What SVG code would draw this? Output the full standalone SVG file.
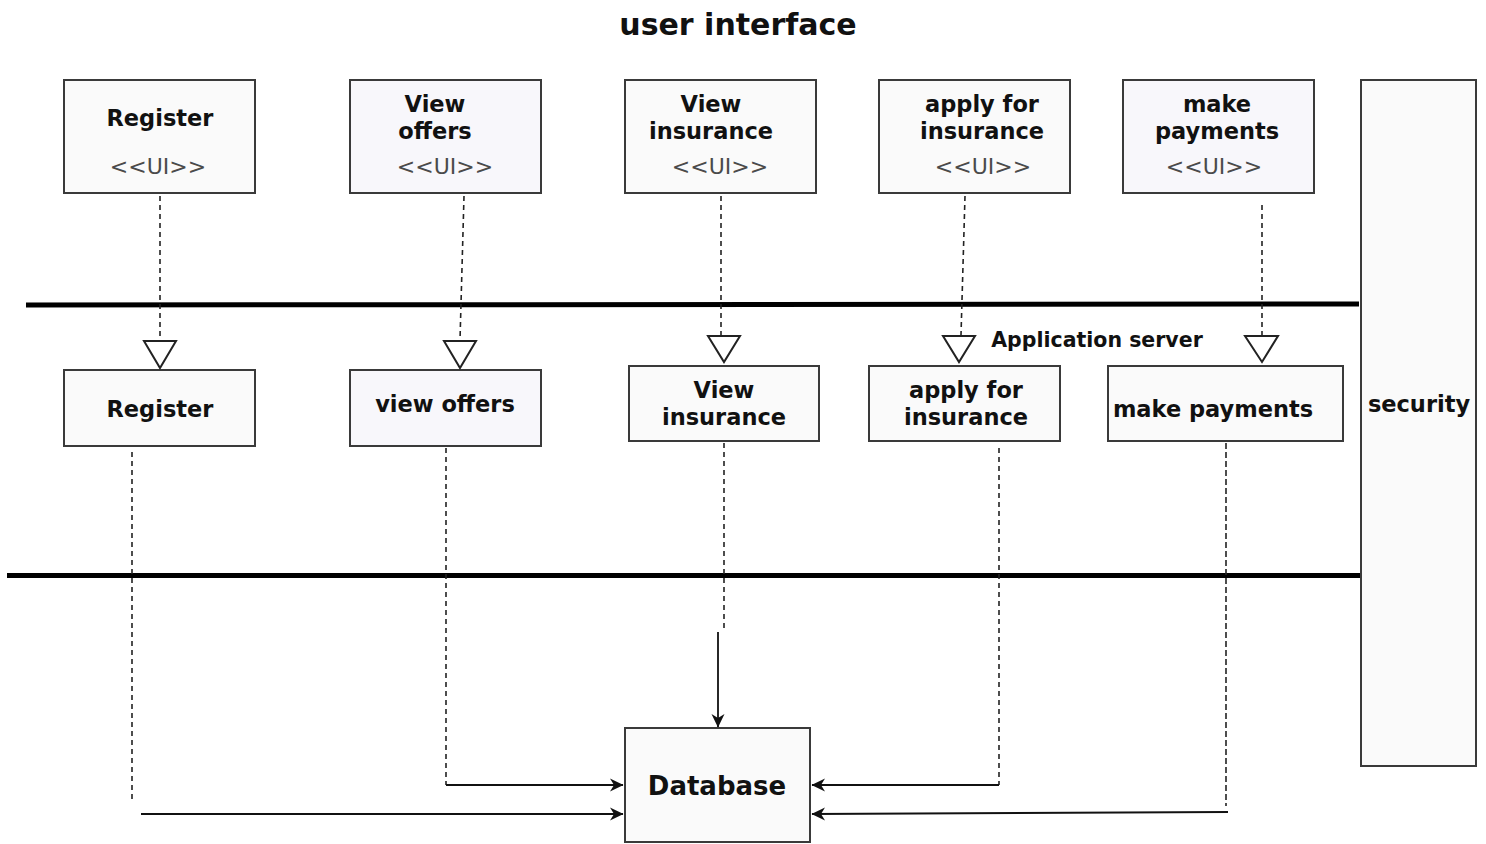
<svg xmlns="http://www.w3.org/2000/svg" width="1486" height="844" viewBox="0 0 1486 844">
  <style>
    .box { fill: #fafafa; stroke: #3a3a3a; stroke-width: 2; }
    .box.alt { fill: #f8f7fb; }
    .lbl { font-family: "DejaVu Sans", "Liberation Sans", sans-serif; font-weight: bold; font-size: 22.5px; fill: #111; text-anchor: middle; }
    .stereo { font-family: "DejaVu Sans", "Liberation Sans", sans-serif; font-size: 22px; fill: #4a4a4a; text-anchor: middle; }
    .tier { stroke: #000; stroke-width: 5; fill: none; }
    .dash { stroke: #222; stroke-width: 1.6; fill: none; stroke-dasharray: 5 4; }
    .flow { stroke: #111; stroke-width: 1.8; fill: none; marker-end: url(#arrow); }
    .gen { fill: #fff; stroke: #222; stroke-width: 2; stroke-linejoin: miter; }
  </style>
  <defs>
    <marker id="arrow" markerUnits="userSpaceOnUse" markerWidth="16" markerHeight="16" viewBox="0 0 16 16" refX="14" refY="8" orient="auto">
      <path d="M1,1.5 L14.5,8 L1,14.5 L5,8 Z" fill="#111"/>
    </marker>
  </defs>

  <rect width="1486" height="844" fill="#fff"/>

  <text x="738" y="35" class="lbl" style="font-size:30px">user interface</text>

  <!-- tier separators -->
  <g id="tiers">
    <line x1="26" y1="305" x2="1359" y2="304" class="tier"/>
    <line x1="7" y1="575.5" x2="1362" y2="575.5" class="tier"/>
  </g>

  <!-- user interface layer -->
  <g id="ui-register">
    <rect x="64" y="80" width="191" height="113" class="box"/>
    <text x="160" y="126" class="lbl">Register</text>
    <text x="158" y="174" class="stereo">&lt;&lt;UI&gt;&gt;</text>
  </g>
  <g id="ui-view-offers">
    <rect x="350" y="80" width="191" height="113" class="box alt"/>
    <text x="435" y="112" class="lbl">View</text>
    <text x="435" y="139" class="lbl">offers</text>
    <text x="445" y="174" class="stereo">&lt;&lt;UI&gt;&gt;</text>
  </g>
  <g id="ui-view-insurance">
    <rect x="625" y="80" width="191" height="113" class="box"/>
    <text x="711" y="112" class="lbl">View</text>
    <text x="711" y="139" class="lbl">insurance</text>
    <text x="720" y="174" class="stereo">&lt;&lt;UI&gt;&gt;</text>
  </g>
  <g id="ui-apply">
    <rect x="879" y="80" width="191" height="113" class="box"/>
    <text x="982" y="112" class="lbl">apply for</text>
    <text x="982" y="139" class="lbl">insurance</text>
    <text x="983" y="174" class="stereo">&lt;&lt;UI&gt;&gt;</text>
  </g>
  <g id="ui-payments">
    <rect x="1123" y="80" width="191" height="113" class="box alt"/>
    <text x="1217" y="112" class="lbl">make</text>
    <text x="1217" y="139" class="lbl">payments</text>
    <text x="1214" y="174" class="stereo">&lt;&lt;UI&gt;&gt;</text>
  </g>

  <!-- cross-cutting concern -->
  <g id="security">
    <rect x="1361" y="80" width="115" height="686" class="box"/>
    <text x="1419" y="412" class="lbl">security</text>
  </g>

  <text x="1097" y="347" class="lbl" style="font-size:20.5px">Application server</text>

  <!-- application server layer -->
  <g id="app-register">
    <rect x="64" y="370" width="191" height="76" class="box"/>
    <text x="160" y="417" class="lbl">Register</text>
  </g>
  <g id="app-view-offers">
    <rect x="350" y="370" width="191" height="76" class="box alt"/>
    <text x="445" y="412" class="lbl">view offers</text>
  </g>
  <g id="app-view-insurance">
    <rect x="629" y="366" width="190" height="75" class="box"/>
    <text x="724" y="398" class="lbl">View</text>
    <text x="724" y="425" class="lbl">insurance</text>
  </g>
  <g id="app-apply">
    <rect x="869" y="366" width="191" height="75" class="box"/>
    <text x="966" y="398" class="lbl">apply for</text>
    <text x="966" y="425" class="lbl">insurance</text>
  </g>
  <g id="app-payments">
    <rect x="1108" y="366" width="235" height="75" class="box"/>
    <text x="1213" y="417" class="lbl">make payments</text>
  </g>

  <!-- data layer -->
  <g id="database">
    <rect x="625" y="728" width="185" height="114" class="box"/>
    <text x="717" y="795" class="lbl" style="font-size:26px">Database</text>
  </g>

  <g id="connectors">
    <!-- UI to application server -->
    <path d="M160,196 V340" class="dash"/>
    <polygon points="144,341 176,341 160,368" class="gen"/>
    <path d="M464,196 L460,340" class="dash"/>
    <polygon points="444,341 476,341 460,368" class="gen"/>
    <path d="M721,196 V335" class="dash"/>
    <polygon points="708,336 740,336 724,362" class="gen"/>
    <path d="M965,196 L961,335" class="dash"/>
    <polygon points="943,336 975,336 959,362" class="gen"/>
    <path d="M1262,205 V335" class="dash"/>
    <polygon points="1245,336 1278,336 1262,362" class="gen"/>

    <!-- application server to database -->
    <path d="M132,452 V800" class="dash"/>
    <path d="M141,814 H623" class="flow"/>
    <path d="M446,448 V785" class="dash"/>
    <path d="M446,785 H623" class="flow"/>
    <path d="M724,443 V632" class="dash"/>
    <path d="M718,632 V727" class="flow"/>
    <path d="M999,448 V785" class="dash"/>
    <path d="M999,785 H812" class="flow"/>
    <path d="M1226,443 V806" class="dash" style="stroke-dasharray:6 3"/>
    <path d="M1228,812 L812,814" class="flow"/>
  </g>
</svg>
